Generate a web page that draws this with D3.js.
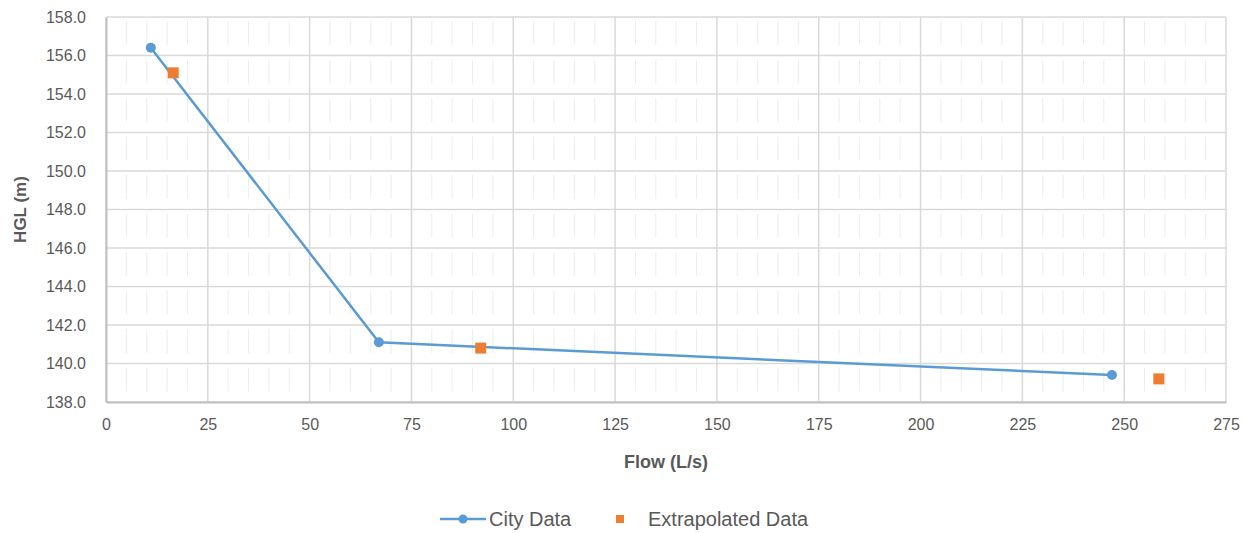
<!DOCTYPE html>
<html>
<head>
<meta charset="utf-8">
<script src="https://cdn.jsdelivr.net/npm/d3@7"></script>
<style>
  body { margin: 0; background: #ffffff; }
  svg { display: block; }
</style>
</head>
<body>
<script>
// data
var cityFlow = [11, 67, 247];
var cityHgl = [156.4, 141.1, 139.4];
var extrapFlow = [16.5, 92, 258.5];
var extrapHgl = [155.1, 140.8, 139.2];
var xTicks = [0, 25, 50, 75, 100, 125, 150, 175, 200, 225, 250, 275];
var yTicks = [138, 140, 142, 144, 146, 148, 150, 152, 154, 156, 158];
var legendLabels = ["City Data", "Extrapolated Data"];

(function () {
  var W = 1253, H = 533;
  var plotLeft = 106, plotRight = 1226, plotTop = 17, plotBottom = 402;
  var blue = "#5b9bd5", orange = "#ed7d31";
  var textColor = "#595959";
  var fontFamily = "'Liberation Sans', Arial, sans-serif";

  var svg = d3.select("body").append("svg")
    .attr("width", W)
    .attr("height", H);

  var x = d3.scaleLinear().domain([0, 275]).range([plotLeft, plotRight]);
  var y = d3.scaleLinear().domain([138, 158]).range([plotBottom, plotTop]);

  // minor vertical gridlines every 5 L/s (faint, broken look)
  var minor = d3.range(5, 275, 5).filter(function (v) { return v % 25 !== 0; });
  svg.append("g")
    .selectAll("line")
    .data(minor)
    .enter()
    .append("line")
    .attr("x1", function (d) { return x(d); })
    .attr("x2", function (d) { return x(d); })
    .attr("y1", plotTop)
    .attr("y2", plotBottom)
    .attr("stroke", "#ededed")
    .attr("stroke-width", 1)
    .attr("stroke-dasharray", "24,14.5")
    .attr("stroke-dashoffset", -4);

  // major gridlines
  svg.append("g")
    .selectAll("line")
    .data(yTicks)
    .enter()
    .append("line")
    .attr("x1", plotLeft)
    .attr("x2", plotRight)
    .attr("y1", function (d) { return y(d); })
    .attr("y2", function (d) { return y(d); })
    .attr("stroke", "#d9d9d9")
    .attr("stroke-width", 1.5);

  svg.append("g")
    .selectAll("line")
    .data(xTicks)
    .enter()
    .append("line")
    .attr("x1", function (d) { return x(d); })
    .attr("x2", function (d) { return x(d); })
    .attr("y1", plotTop)
    .attr("y2", plotBottom)
    .attr("stroke", "#d9d9d9")
    .attr("stroke-width", 1.5);

  // axes
  var xAxis = svg.append("g")
    .attr("transform", "translate(0," + plotBottom + ")")
    .call(d3.axisBottom(x).tickValues(xTicks).tickSize(0).tickPadding(17).tickFormat(d3.format("d")));
  var yAxis = svg.append("g")
    .attr("transform", "translate(" + plotLeft + ",0)")
    .call(d3.axisLeft(y).tickValues(yTicks).tickSize(0).tickPadding(20).tickFormat(d3.format(".1f")));

  [xAxis, yAxis].forEach(function (a) {
    a.select(".domain").attr("stroke", "#bfbfbf").attr("stroke-width", 2);
    a.selectAll("text")
      .attr("fill", textColor)
      .attr("font-family", fontFamily)
      .attr("font-size", "16px");
  });

  // axis titles
  svg.append("text")
    .attr("x", (plotLeft + plotRight) / 2)
    .attr("y", 468)
    .attr("text-anchor", "middle")
    .attr("font-family", fontFamily)
    .attr("font-size", "18px")
    .attr("font-weight", "bold")
    .attr("fill", textColor)
    .text("Flow (L/s)");

  svg.append("text")
    .attr("transform", "translate(26," + ((plotTop + plotBottom) / 2) + ") rotate(-90)")
    .attr("text-anchor", "middle")
    .attr("font-family", fontFamily)
    .attr("font-size", "17px")
    .attr("font-weight", "bold")
    .attr("fill", textColor)
    .text("HGL (m)");

  var city = cityFlow.map(function (d, i) { return { x: d, y: cityHgl[i] }; });
  var extrap = extrapFlow.map(function (d, i) { return { x: d, y: extrapHgl[i] }; });

  // City Data series
  svg.append("path")
    .datum(city)
    .attr("fill", "none")
    .attr("stroke", blue)
    .attr("stroke-width", 2.5)
    .attr("d", d3.line().x(function (d) { return x(d.x); }).y(function (d) { return y(d.y); }));

  svg.append("g")
    .selectAll("circle")
    .data(city)
    .enter()
    .append("circle")
    .attr("cx", function (d) { return x(d.x); })
    .attr("cy", function (d) { return y(d.y); })
    .attr("r", 5)
    .attr("fill", blue);

  // Extrapolated Data series
  var sq = 11;
  svg.append("g")
    .selectAll("rect")
    .data(extrap)
    .enter()
    .append("rect")
    .attr("x", function (d) { return x(d.x) - sq / 2; })
    .attr("y", function (d) { return y(d.y) - sq / 2; })
    .attr("width", sq)
    .attr("height", sq)
    .attr("fill", orange);

  // legend
  var legend = svg.append("g");
  legend.append("line")
    .attr("x1", 440).attr("x2", 486)
    .attr("y1", 519).attr("y2", 519)
    .attr("stroke", blue).attr("stroke-width", 2.5);
  legend.append("circle")
    .attr("cx", 463).attr("cy", 519).attr("r", 4.5)
    .attr("fill", blue);
  legend.append("text")
    .attr("x", 489).attr("y", 526)
    .attr("font-family", fontFamily).attr("font-size", "20px")
    .attr("fill", textColor)
    .text(legendLabels[0]);
  legend.append("rect")
    .attr("x", 616).attr("y", 515).attr("width", 8).attr("height", 8)
    .attr("fill", orange);
  legend.append("text")
    .attr("x", 648).attr("y", 526)
    .attr("font-family", fontFamily).attr("font-size", "20px")
    .attr("fill", textColor)
    .text(legendLabels[1]);
})();
</script>
</body>
</html>
